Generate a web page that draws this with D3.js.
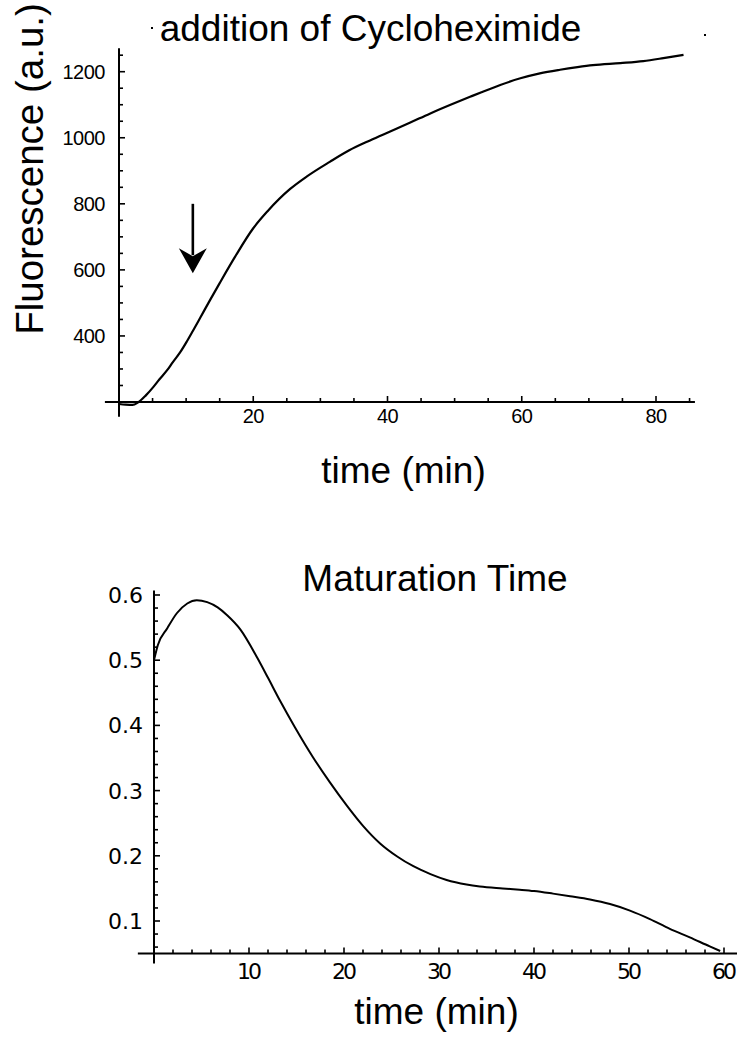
<!DOCTYPE html>
<html>
<head>
<meta charset="utf-8">
<script src="https://cdn.jsdelivr.net/npm/d3@7"></script>
<style>
  body { margin: 0; background: #fff; }
  svg { display: block; }
</style>
</head>
<body>
<svg id="chart"></svg>
<script>
const WIDTH = 737, HEIGHT = 1042;

// top panel: fluorescence after cycloheximide
const fluoTime  = [0, 1, 2, 2.8, 4, 5.1, 6, 7.2, 8, 9.1, 10.1, 11, 12.1, 13.6, 15, 17.3, 20, 22.1, 25.5, 28, 31.4, 34.3, 37.4, 40.4, 43.4, 46.3, 49.3, 52.3, 54, 56.8, 59.8, 62.7, 65.7, 68.3, 70.6, 74.7, 78.1, 81.1, 84.1];
const fluoValue = [194, 192, 191, 198, 220, 245, 268, 297, 320, 350, 383, 415, 455, 510, 560, 640, 726, 777, 845, 883, 927, 962, 992, 1019, 1046, 1073, 1099, 1124, 1138, 1160, 1180, 1195, 1206, 1214, 1220, 1226, 1232, 1241, 1251];
const fluoXLabels = [20, 40, 60, 80];
const fluoYLabels = [400, 600, 800, 1000, 1200];
const arrowTime = 11, arrowFrom = 800, arrowTo = 590;

// bottom panel: maturation time distribution
const matTime  = [0, 0.4, 1.4, 2.4, 3.5, 4.5, 5.6, 6.7, 7.7, 9.1, 10.9, 12, 13.3, 14.8, 16.7, 18.5, 20.3, 22, 23.8, 25.6, 27.3, 29.1, 30.8, 32.9, 34.3, 36.7, 38.5, 40, 42, 43.8, 45.9, 48, 50.1, 52.2, 54.3, 56.4, 58.5, 59.6];
const matValue = [0.50, 0.523, 0.549, 0.572, 0.587, 0.592, 0.589, 0.581, 0.569, 0.547, 0.503, 0.473, 0.437, 0.398, 0.352, 0.313, 0.277, 0.246, 0.219, 0.199, 0.184, 0.172, 0.163, 0.156, 0.153, 0.150, 0.148, 0.146, 0.142, 0.138, 0.133, 0.126, 0.116, 0.103, 0.088, 0.075, 0.061, 0.054];
const matXLabels = [10, 20, 30, 40, 50, 60];
const matYLabels = [0.1, 0.2, 0.3, 0.4, 0.5, 0.6];

const BIG_FONT = "'Liberation Sans', Arial, sans-serif";

const svg = d3.select("#chart")
    .attr("width", WIDTH)
    .attr("height", HEIGHT);

// draws axis lines and tick marks, ticks point into the plot (up / right)
function drawAxes(g, x, y, opt){
    g.append("line")
        .attr("x1", x(opt.xMin)).attr("x2", x(opt.xMax))
        .attr("y1", y(opt.yOrigin)).attr("y2", y(opt.yOrigin))
        .attr("stroke", "#000").attr("stroke-width", 2);
    g.append("line")
        .attr("x1", x(0)).attr("x2", x(0))
        .attr("y1", y(opt.yMin)).attr("y2", y(opt.yMax))
        .attr("stroke", "#000").attr("stroke-width", 2);

    g.selectAll(".xtick")
        .data(opt.xTicks)
        .enter().append("line")
        .attr("x1", d => x(d)).attr("x2", d => x(d))
        .attr("y1", y(opt.yOrigin))
        .attr("y2", d => y(opt.yOrigin) - (opt.xMajor.includes(d) ? 6 : 4))
        .attr("stroke", "#000").attr("stroke-width", 1.6);

    g.selectAll(".ytick")
        .data(opt.yTicks)
        .enter().append("line")
        .attr("y1", d => y(d)).attr("y2", d => y(d))
        .attr("x1", x(0))
        .attr("x2", d => x(0) + (opt.yMajor.some(m => Math.abs(m - d) < 1e-6) ? 6 : 4))
        .attr("stroke", "#000").attr("stroke-width", 1.6);
}

// ---------- top panel ----------
const topPanel = svg.append("g");
const x1 = d3.scaleLinear().domain([0, 80]).range([119, 656]);
const y1 = d3.scaleLinear().domain([200, 1200]).range([402, 71.7]);

drawAxes(topPanel, x1, y1, {
    xMin: -2.1, xMax: 85.8, yOrigin: 200, yMin: 155, yMax: 1271,
    xTicks: d3.range(5, 86, 5), xMajor: fluoXLabels,
    yTicks: d3.range(250, 1251, 50), yMajor: fluoYLabels
});

topPanel.selectAll(".xl")
    .data(fluoXLabels)
    .enter().append("text")
    .attr("x", d => x1(d)).attr("y", 423)
    .attr("text-anchor", "middle")
    .attr("font-family", BIG_FONT).attr("font-size", 20)
    .attr("letter-spacing", -0.5)
    .text(d => d);

topPanel.selectAll(".yl")
    .data(fluoYLabels)
    .enter().append("text")
    .attr("x", 105).attr("y", d => y1(d) + 7)
    .attr("text-anchor", "end")
    .attr("font-family", BIG_FONT).attr("font-size", 20)
    .attr("letter-spacing", -0.5)
    .text(d => d);

topPanel.append("path")
    .datum(d3.zip(fluoTime, fluoValue))
    .attr("fill", "none").attr("stroke", "#000").attr("stroke-width", 2.2)
    .attr("d", d3.line().x(d => x1(d[0])).y(d => y1(d[1])).curve(d3.curveMonotoneX));

// arrow marking the addition of cycloheximide
const ax = x1(arrowTime), ayTop = y1(arrowFrom), ayTip = y1(arrowTo);
topPanel.append("line")
    .attr("x1", ax).attr("x2", ax).attr("y1", ayTop).attr("y2", ayTip - 18)
    .attr("stroke", "#000").attr("stroke-width", 2.6);
topPanel.append("path")
    .attr("d", `M${ax},${ayTip} L${ax - 14},${ayTip - 25} L${ax},${ayTip - 17} L${ax + 14},${ayTip - 25} Z`)
    .attr("fill", "#000");

topPanel.append("text")
    .attr("x", 370.5).attr("y", 41)
    .attr("text-anchor", "middle")
    .attr("font-family", BIG_FONT).attr("font-size", 37)
    .text("addition of Cycloheximide");
// two stray dots beside the title in the original
topPanel.append("rect").attr("x", 151).attr("y", 27).attr("width", 2).attr("height", 2).attr("fill", "#000");
topPanel.append("rect").attr("x", 704).attr("y", 34).attr("width", 2).attr("height", 2).attr("fill", "#000");

topPanel.append("text")
    .attr("x", 403.5).attr("y", 483)
    .attr("text-anchor", "middle")
    .attr("font-family", BIG_FONT).attr("font-size", 37)
    .text("time (min)");

topPanel.append("text")
    .attr("transform", "translate(43,169) rotate(-90)")
    .attr("text-anchor", "middle")
    .attr("font-family", BIG_FONT).attr("font-size", 38.5)
    .text("Fluorescence (a.u.)");

// ---------- bottom panel ----------
const botPanel = svg.append("g");
const x2 = d3.scaleLinear().domain([0, 60]).range([154, 724]);
const y2 = d3.scaleLinear().domain([0.1, 0.6]).range([921, 595]);

drawAxes(botPanel, x2, y2, {
    xMin: -1.7, xMax: 61.5, yOrigin: 0.05, yMin: 0.035, yMax: 0.607,
    xTicks: d3.range(2, 61, 2), xMajor: matXLabels,
    yTicks: d3.range(3, 31).map(i => i * 0.02), yMajor: matYLabels
});

botPanel.selectAll(".xl")
    .data(matXLabels)
    .enter().append("text")
    .attr("x", d => x2(d) - 1).attr("y", 979)
    .attr("text-anchor", "middle")
    .attr("font-family", "'DejaVu Sans', sans-serif").attr("font-size", 22)
    .attr("letter-spacing", -3)
    .text(d => d);

botPanel.selectAll(".yl")
    .data(matYLabels)
    .enter().append("text")
    .attr("x", 143).attr("y", d => y2(d) + 8)
    .attr("text-anchor", "end")
    .attr("font-family", "'DejaVu Sans', sans-serif").attr("font-size", 22)
    .text(d => d.toFixed(1));

botPanel.append("path")
    .datum(d3.zip(matTime, matValue))
    .attr("fill", "none").attr("stroke", "#000").attr("stroke-width", 2)
    .attr("d", d3.line().x(d => x2(d[0])).y(d => y2(d[1])).curve(d3.curveMonotoneX));

botPanel.append("text")
    .attr("x", 435).attr("y", 591)
    .attr("text-anchor", "middle")
    .attr("font-family", BIG_FONT).attr("font-size", 37)
    .text("Maturation Time");

botPanel.append("text")
    .attr("x", 436.5).attr("y", 1024)
    .attr("text-anchor", "middle")
    .attr("font-family", BIG_FONT).attr("font-size", 37)
    .text("time (min)");
</script>
</body>
</html>
